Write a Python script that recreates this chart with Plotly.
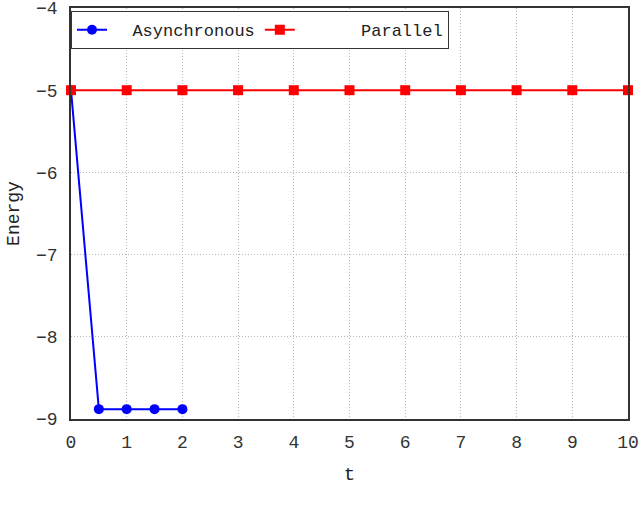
import plotly.graph_objects as go

t_async = [0, 0.5, 1, 1.5, 2]
e_async = [-5, -8.88, -8.88, -8.88, -8.88]
t_par = [0, 1, 2, 3, 4, 5, 6, 7, 8, 9, 10]
e_par = [-5, -5, -5, -5, -5, -5, -5, -5, -5, -5, -5]
x_ticks = [0, 1, 2, 3, 4, 5, 6, 7, 8, 9, 10]
y_ticks = [-9, -8, -7, -6, -5, -4]
y_ticktext = ["\u22129", "\u22128", "\u22127", "\u22126", "\u22125", "\u22124"]

fig = go.Figure()
fig.add_trace(go.Scatter(x=t_async, y=e_async, mode="lines+markers", name="  Asynchronous",
                         line=dict(color="#0000ff", width=2),
                         marker=dict(symbol="circle", size=10, color="#0000ff"),
                         cliponaxis=False))
fig.add_trace(go.Scatter(x=t_par, y=e_par, mode="lines+markers", name="      Parallel",
                         line=dict(color="#ff0000", width=2),
                         marker=dict(symbol="square", size=10, color="#ff0000"),
                         cliponaxis=False))

tickfont = dict(family="Liberation Mono", size=18, color="#333333")
axis_common = dict(showline=True, linecolor="#333333", linewidth=1.5, mirror=True,
                   showgrid=True, gridcolor="#b8b8b8", griddash="1px,2px", gridwidth=1,
                   zeroline=False, ticks="", automargin=False, tickfont=tickfont,
                   ticklabeloverflow="allow")

fig.update_layout(
    width=640, height=513,
    margin=dict(l=71, r=12, t=8, b=94),
    plot_bgcolor="white", paper_bgcolor="white",
    showlegend=True,
    legend=dict(orientation="h", x=0.0, y=0.992, xanchor="left", yanchor="top",
                bgcolor="white", bordercolor="#333333", borderwidth=1,
                font=dict(family="Liberation Mono", size=17, color="#222222"),
                tracegroupgap=0),
    xaxis=dict(range=[0, 10], tickvals=x_ticks, ticklabelstandoff=6,
               title=dict(text="t", font=dict(family="Liberation Mono", size=19, color="#222222"), standoff=14),
               **axis_common),
    yaxis=dict(range=[-9, -4], tickvals=y_ticks, ticktext=y_ticktext, ticklabelstandoff=8,
               title=dict(text="Energy", font=dict(family="Liberation Mono", size=18, color="#222222"), standoff=12),
               **axis_common),
)

fig.write_html("out.html", config={"displayModeBar": False},
               post_script="document.body.style.margin='0';")
